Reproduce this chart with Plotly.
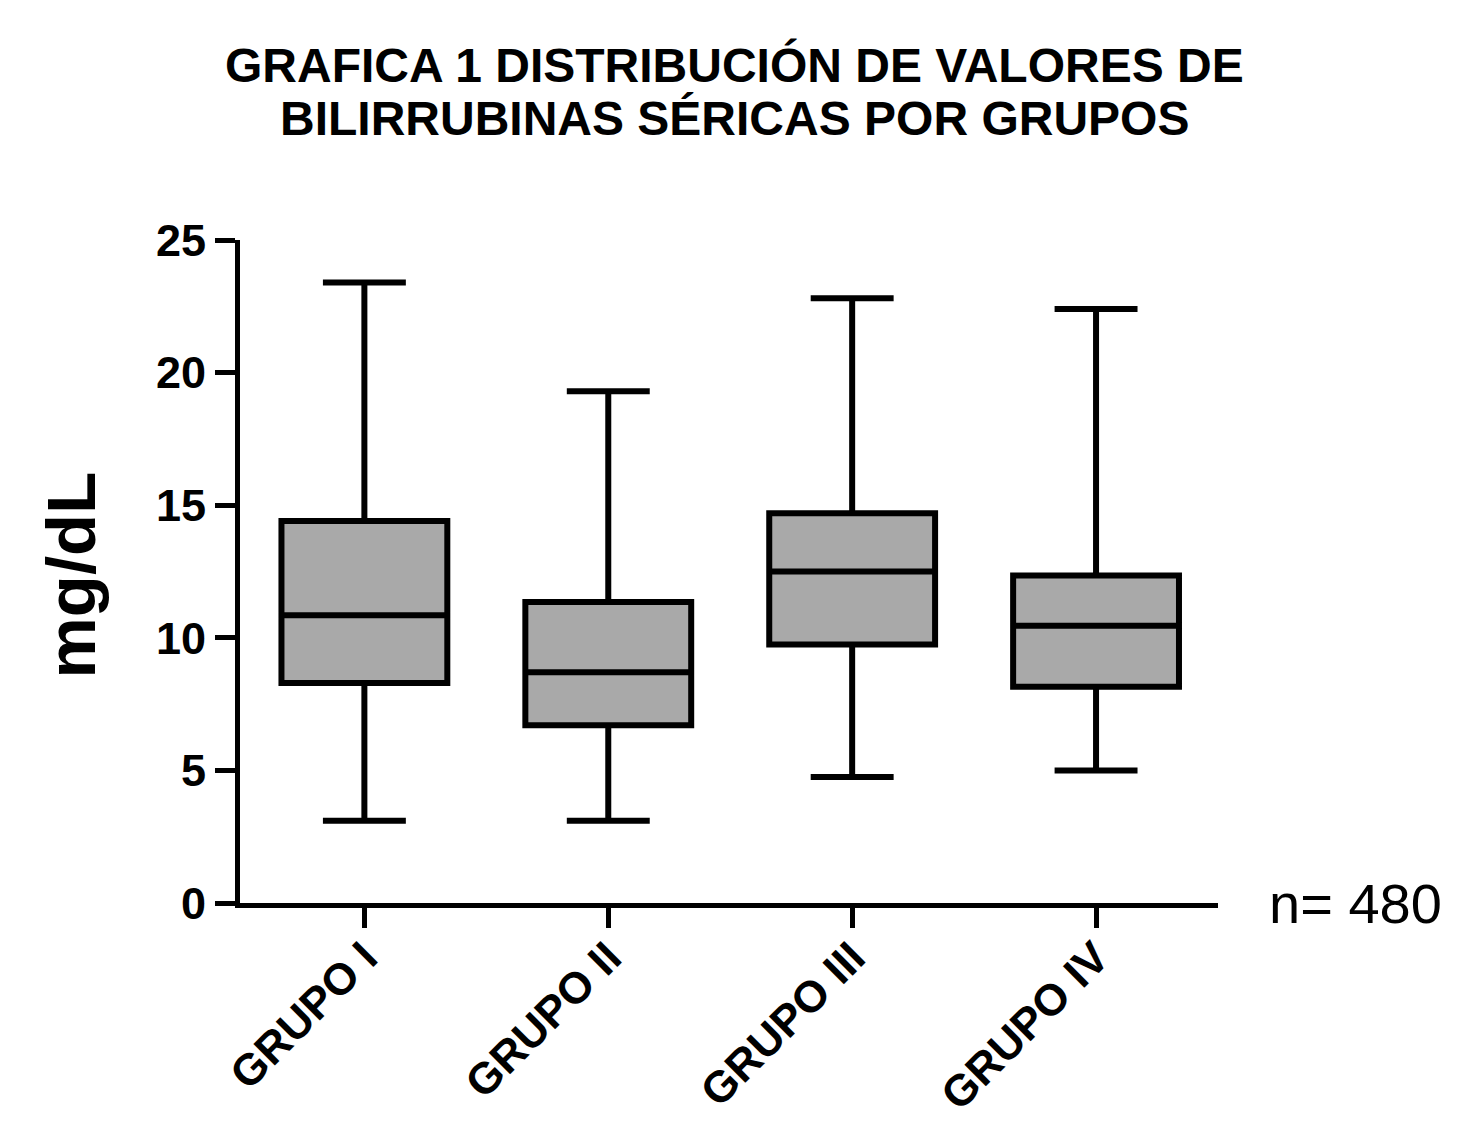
import plotly.graph_objects as go

groups = ["GRUPO I", "GRUPO II", "GRUPO III", "GRUPO IV"]
lower_whisker = [3.1, 3.1, 4.75, 5.0]
q1_values = [8.3, 6.7, 9.75, 8.15]
median_values = [10.85, 8.7, 12.5, 10.45]
q3_values = [14.4, 11.35, 14.7, 12.35]
upper_whisker = [23.4, 19.3, 22.8, 22.4]

title_lines = ["GRAFICA 1 DISTRIBUCIÓN DE VALORES DE", "BILIRRUBINAS SÉRICAS POR GRUPOS"]

FONT = "Liberation Sans, Arial, sans-serif"

fig = go.Figure()
fig.add_trace(go.Box(
    x=groups,
    q1=q1_values,
    median=median_values,
    q3=q3_values,
    lowerfence=lower_whisker,
    upperfence=upper_whisker,
    fillcolor="#a9a9a9",
    line=dict(color="black", width=6),
    whiskerwidth=0.5,
    width=0.68,
    boxpoints=False,
    showlegend=False,
    hoverinfo="skip",
))

fig.update_layout(
    width=1466, height=1125,
    paper_bgcolor="white", plot_bgcolor="white",
    margin=dict(l=232, r=256, t=232, b=230),
    font=dict(family=FONT, color="black"),
    xaxis=dict(
        type="category",
        range=[-0.51, 3.5],
        automargin=False,
        showline=True, linecolor="black", linewidth=5,
        ticks="outside", ticklen=20, tickwidth=5, tickcolor="black",
        tickangle=-45,
        ticklabelstandoff=-14,
        tickfont=dict(size=44, family="Liberation Sans", color="black", weight="bold"),
        showgrid=False, zeroline=False,
    ),
    yaxis=dict(
        range=[0, 25],
        tickvals=[0, 5, 10, 15, 20, 25],
        automargin=False,
        showline=True, linecolor="black", linewidth=5,
        ticks="outside", ticklen=20, tickwidth=5, tickcolor="black",
        tickfont=dict(size=45, family="Liberation Sans", color="black", weight="bold"),
        ticklabelstandoff=0,
        showgrid=False, zeroline=False,
    ),
)

for line, ypos in zip(title_lines, [1.264, 1.184]):
    fig.add_annotation(
        text="<b>" + line + "</b>", xref="paper", yref="paper",
        x=0.506, y=ypos, xanchor="center", yanchor="middle",
        showarrow=False, font=dict(size=48, family=FONT, color="black"),
    )

fig.add_annotation(
    text="<b>mg/dL</b>", xref="paper", yref="paper",
    x=-0.172, y=0.495, xanchor="center", yanchor="middle", textangle=-90,
    showarrow=False, font=dict(size=69, family=FONT, color="black"),
)

fig.add_annotation(
    text="n= 480", xref="paper", yref="paper",
    x=1.05, y=0.0, xanchor="left", yanchor="middle",
    showarrow=False, font=dict(size=56, family=FONT, color="black"),
)

fig.write_html("out.html")
